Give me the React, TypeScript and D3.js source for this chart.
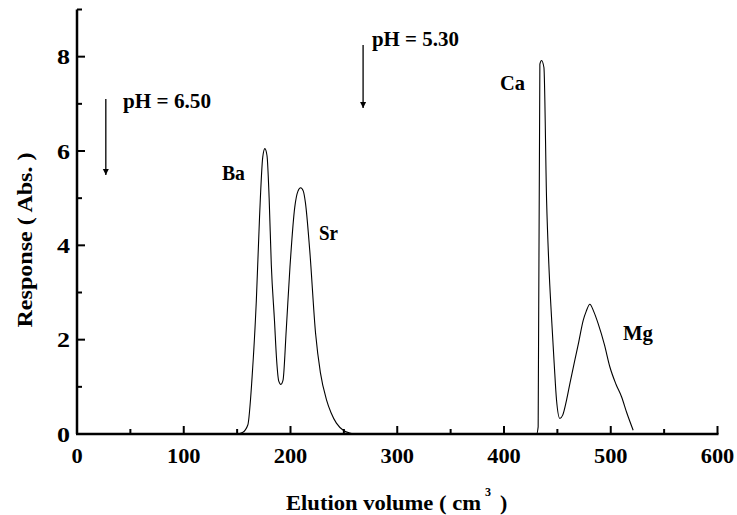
import React from "react";
import * as d3 from "d3";

const elutionVolume = [0, 150, 155, 160, 164, 168, 171, 174, 176, 178, 180, 182, 185, 187, 189, 191, 193, 196, 199.5, 204, 207, 209.5, 212, 214, 218, 223.5, 228, 233.8, 238, 243, 250, 255.7, 260, 430.5, 432, 433.6, 435.2, 437.4, 439.9, 442, 444.5, 447, 449.2, 452.3, 455, 458.6, 462, 466.4, 470, 474.2, 477, 480.4, 484, 488.2, 494, 499.2, 505, 510.1, 515, 521];
const response = [0, 0, 0.03, 0.19, 1.2, 2.83, 4.6, 5.87, 6.05, 5.9, 5.0, 3.6, 2.4, 1.57, 1.12, 1.05, 1.14, 2.2, 3.54, 4.81, 5.15, 5.22, 5.15, 4.9, 3.9, 2.13, 1.3, 0.72, 0.45, 0.23, 0.07, 0.02, 0, 0, 0.15, 7.84, 7.92, 7.77, 4.95, 3.6, 2.48, 1.5, 0.72, 0.33, 0.4, 0.72, 1.1, 1.57, 1.95, 2.41, 2.6, 2.75, 2.6, 2.34, 1.9, 1.42, 1.05, 0.79, 0.45, 0.08];

const xTicks = [0, 100, 200, 300, 400, 500, 600];
const yTicks = [0, 2, 4, 6, 8];
const xMinor = [50, 150, 250, 350, 450, 550];
const yMinor = [1, 3, 5, 7, 9];

const peakLabels = [
  { text: "Ba", x: 135.8, y: 5.38, w: 23 },
  { text: "Sr", x: 226.7, y: 4.11, w: 19 },
  { text: "Ca", x: 396.3, y: 7.29, w: 25 },
  { text: "Mg", x: 511.5, y: 1.99, w: 30 },
];
const phLabels = [
  { text: "pH = 6.50", x: 43.1, y: 6.91, w: 88 },
  { text: "pH = 5.30", x: 276.3, y: 8.23, w: 87 },
];
const phArrows = [
  { x: 27, y0: 7.1, y1: 5.49 },
  { x: 268, y0: 8.25, y1: 6.91 },
];

export default function App() {
  const W = 737, H = 515;
  const left = 77, right = 717.5, top = 9.5, bottom = 434;
  const x = d3.scaleLinear().domain([0, 600]).range([left, right]);
  const y = d3.scaleLinear().domain([0, 9]).range([bottom, top]);
  const line = d3.line<number>().x((d, i) => x(elutionVolume[i])).y((d) => y(d)).curve(d3.curveMonotoneX);
  const font = "'Liberation Serif', 'Times New Roman', serif";
  return (
    <svg width={W} height={H} style={{ position: "absolute", left: 0, top: 0, background: "#fff" }} fontFamily={font} fontWeight="bold">
      <defs>
        <marker id="ah" viewBox="0 0 10 10" refX="10" refY="5" markerWidth="6" markerHeight="10" markerUnits="userSpaceOnUse" orient="auto">
          <path d="M0,0 L10,5 L0,10 z" fill="#000" />
        </marker>
      </defs>
      <path d={line(response) || ""} fill="none" stroke="#000" strokeWidth={1.1} />
      {/* axes */}
      <line x1={left} y1={top} x2={left} y2={bottom} stroke="#000" strokeWidth={2.5} />
      <line x1={left - 1} y1={bottom} x2={right + 1} y2={bottom} stroke="#000" strokeWidth={2.5} />
      {xTicks.map((t) => (
        <g key={"x" + t}>
          <line x1={x(t)} x2={x(t)} y1={bottom} y2={bottom - 8} stroke="#000" strokeWidth={2} />
          <text x={x(t)} y={463} textAnchor="middle" fontSize={22} textLength={11.2 * String(t).length} lengthAdjust="spacingAndGlyphs">{t}</text>
        </g>
      ))}
      {xMinor.map((t) => (
        <line key={"xm" + t} x1={x(t)} x2={x(t)} y1={bottom} y2={bottom - 5} stroke="#000" strokeWidth={2} />
      ))}
      {yTicks.map((t) => (
        <g key={"y" + t}>
          <line x1={left} x2={left + 8} y1={y(t)} y2={y(t)} stroke="#000" strokeWidth={2} />
          <text x={70} y={y(t) + 7.5} textAnchor="end" fontSize={22} textLength={13} lengthAdjust="spacingAndGlyphs">{t}</text>
        </g>
      ))}
      {yMinor.map((t) => (
        <line key={"ym" + t} x1={left} x2={left + 5} y1={y(t)} y2={y(t)} stroke="#000" strokeWidth={2} />
      ))}
      {/* titles */}
      <text x={286} y={510} fontSize={22} textLength={195} lengthAdjust="spacingAndGlyphs">Elution volume ( cm</text>
      <text x={485} y={496} fontSize={12}>3</text>
      <text x={500} y={510} fontSize={22}>)</text>
      <text transform={`translate(32,240) rotate(-90)`} textAnchor="middle" fontSize={22} textLength={175} lengthAdjust="spacingAndGlyphs">Response ( Abs. )</text>
      {/* peak labels */}
      {peakLabels.map((p) => (
        <text key={p.text} x={x(p.x)} y={y(p.y)} fontSize={20} textLength={p.w} lengthAdjust="spacingAndGlyphs">{p.text}</text>
      ))}
      {phLabels.map((p) => (
        <text key={p.text} x={x(p.x)} y={y(p.y)} fontSize={20} textLength={p.w} lengthAdjust="spacingAndGlyphs">{p.text}</text>
      ))}
      {phArrows.map((p, i) => (
        <line key={"a" + i} x1={x(p.x)} x2={x(p.x)} y1={y(p.y0)} y2={y(p.y1)} stroke="#000" strokeWidth={1.3} markerEnd="url(#ah)" />
      ))}
    </svg>
  );
}
